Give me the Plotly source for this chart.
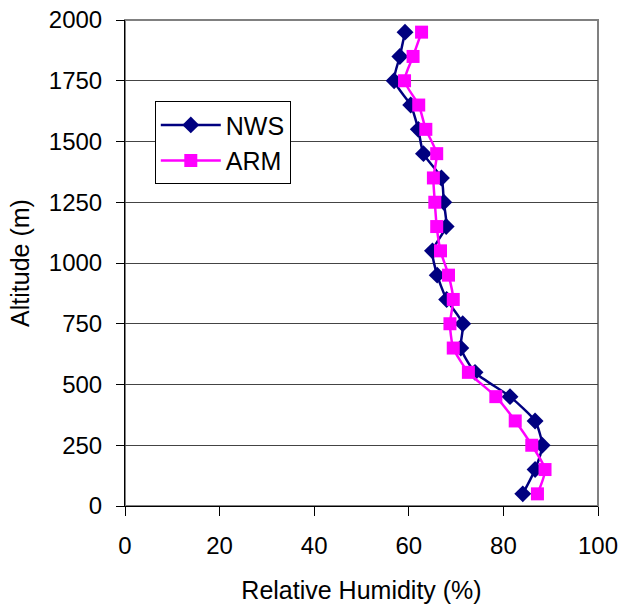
import plotly.graph_objects as go

altitude = [50, 150, 250, 350, 450, 550, 650, 750, 850, 950, 1050, 1150, 1250, 1350, 1450, 1550, 1650, 1750, 1850, 1950]
nws = [84.1, 86.7, 88.2, 86.7, 81.4, 74.0, 71.0, 71.4, 68.0, 66.0, 65.0, 67.9, 67.4, 66.9, 63.1, 62.0, 60.4, 56.9, 58.1, 59.2]
arm = [87.2, 88.8, 86.0, 82.5, 78.4, 72.6, 69.4, 68.7, 69.4, 68.4, 66.7, 65.9, 65.5, 65.2, 65.9, 63.6, 62.1, 59.1, 60.9, 62.7]

font = "Liberation Sans, Arial, sans-serif"

fig = go.Figure()
fig.add_trace(go.Scatter(x=nws, y=altitude, name="NWS", mode="lines+markers",
                         line=dict(color="#000080", width=2.5, shape="spline", smoothing=0.6),
                         marker=dict(symbol="diamond", size=13, color="#000080")))
fig.add_trace(go.Scatter(x=arm, y=altitude, name="ARM", mode="lines+markers",
                         line=dict(color="#FF00FF", width=2.5, shape="spline", smoothing=0.6),
                         marker=dict(symbol="square", size=13, color="#FF00FF")))

# plot-area frame (gray, like the reference)
fig.add_shape(type="rect", xref="x domain", yref="y domain", x0=0, x1=1, y0=0, y1=1,
              line=dict(color="#808080", width=2), layer="below")

fig.update_layout(
    width=622, height=604,
    margin=dict(l=125, r=24, t=20, b=98, autoexpand=False),
    paper_bgcolor="white", plot_bgcolor="white",
    font=dict(family=font, size=24, color="black"),
    showlegend=True,
    legend=dict(x=0.063, y=0.833, xanchor="left", yanchor="top",
                bgcolor="white", bordercolor="black", borderwidth=1,
                font=dict(size=25), tracegroupgap=0, itemwidth=60),
    xaxis=dict(range=[0, 100], dtick=20, showgrid=False, showline=True, linecolor="black",
               linewidth=1, ticks="outside", ticklen=9, tickcolor="black",
               zeroline=False, automargin=False, ticklabelstandoff=9,
               title=dict(text="Relative Humidity (%)", font=dict(size=25), standoff=24)),
    yaxis=dict(range=[0, 2000], dtick=250, showgrid=True, gridcolor="#444444", gridwidth=1,
               showline=True, linecolor="black", linewidth=1,
               ticks="outside", ticklen=8, tickcolor="black", zeroline=False,
               automargin=False, ticklabelstandoff=9,
               title=dict(text="Altitude (m)", font=dict(size=25), standoff=12)),
)

fig.write_html("out.html")
